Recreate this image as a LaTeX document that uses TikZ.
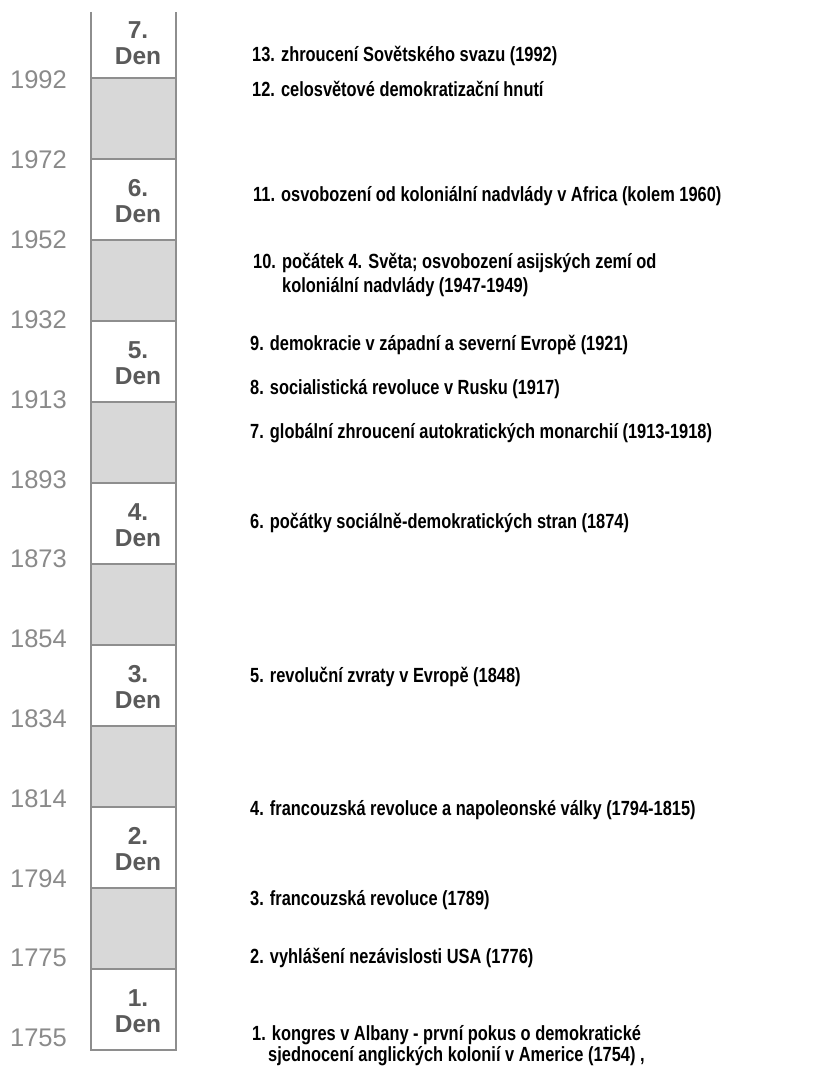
\documentclass[tikz,border=0pt]{standalone}
\usepackage{fontspec}
\setmainfont{Liberation Sans}
\newfontfamily\eventfont[FakeStretch=0.8]{Liberation Sans}
\definecolor{linegray}{HTML}{8E8E8E}
\definecolor{cellgray}{HTML}{D8D8D8}
\definecolor{yeargray}{HTML}{8A8A8A}
\definecolor{dengray}{HTML}{5A5A5A}
\begin{document}
\begin{tikzpicture}[x=1pt, y=-1pt,
  year/.style={anchor=base east, inner sep=0pt, text=yeargray,
    font=\fontsize{25.5}{27}\selectfont},
  den/.style={align=center, inner sep=0pt, text=dengray,
    font=\bfseries\fontsize{24.5}{26}\selectfont},
  event/.style={anchor=base west, inner sep=0pt,
    font=\eventfont\bfseries\fontsize{20.5}{24}\selectfont},
  frame/.style={draw=linegray, line width=1.2pt}]
  \useasboundingbox (0,0) rectangle (835,1067);
  % Shaded intervals
  \foreach \k in {0,2,...,10}
    \fill[cellgray] (91,78+81*\k) rectangle (176,159+81*\k);
  % Column
  \draw[frame] (91,12) -- (91,1050) -- (176,1050) -- (176,12);
  \foreach \k in {0,...,11}
    \draw[frame] (91,78+81*\k) -- (176,78+81*\k);
  % Year scale
  \foreach \yr [count=\i from 0] in {1992,1972,1952,1932,1913,1893,1873,1854,1834,1814,1794,1775,1755}
    \node[year] (y\yr) at (67,89+79.8*\i) {\yr};
  % Days
  \node[den] (den7) at (138,43) {7.\\Den};
  \node[den] (den6) at (138,201) {6.\\Den};
  \node[den] (den5) at (138,363) {5.\\Den};
  \node[den] (den4) at (138,525) {4.\\Den};
  \node[den] (den3) at (138,687) {3.\\Den};
  \node[den] (den2) at (138,849) {2.\\Den};
  \node[den] (den1) at (138,1011) {1.\\Den};
  % Events
  \node[event] (ev13) at (252,62) {13. zhroucení Sovětského svazu (1992)};
  \node[event] (ev12) at (252,97) {12. celosvětové demokratizační hnutí};
  \node[event] (ev11) at (253,202) {11. osvobození od koloniální nadvlády v Africa (kolem 1960)};
  \node[event] (ev10) at (253,268) {10. počátek 4. Světa; osvobození asijských zemí od};
  \node[event] (ev10b) at (282,292) {koloniální nadvlády (1947-1949)};
  \node[event] (ev9) at (250,350) {9. demokracie v západní a severní Evropě (1921)};
  \node[event] (ev8) at (250,394) {8. socialistická revoluce v Rusku (1917)};
  \node[event] (ev7) at (250,438) {7. globální zhroucení autokratických monarchií (1913-1918)};
  \node[event] (ev6) at (250,528) {6. počátky sociálně-demokratických stran (1874)};
  \node[event] (ev5) at (250,682) {5. revoluční zvraty v Evropě (1848)};
  \node[event] (ev4) at (250,815) {4. francouzská revoluce a napoleonské války (1794-1815)};
  \node[event] (ev3) at (250,905) {3. francouzská revoluce (1789)};
  \node[event] (ev2) at (250,963) {2. vyhlášení nezávislosti USA (1776)};
  \node[event] (ev1) at (252,1040) {1. kongres v Albany - první pokus o demokratické};
  \node[event] (ev1b) at (268,1061) {sjednocení anglických kolonií v Americe (1754) ,};
\end{tikzpicture}
\end{document}
